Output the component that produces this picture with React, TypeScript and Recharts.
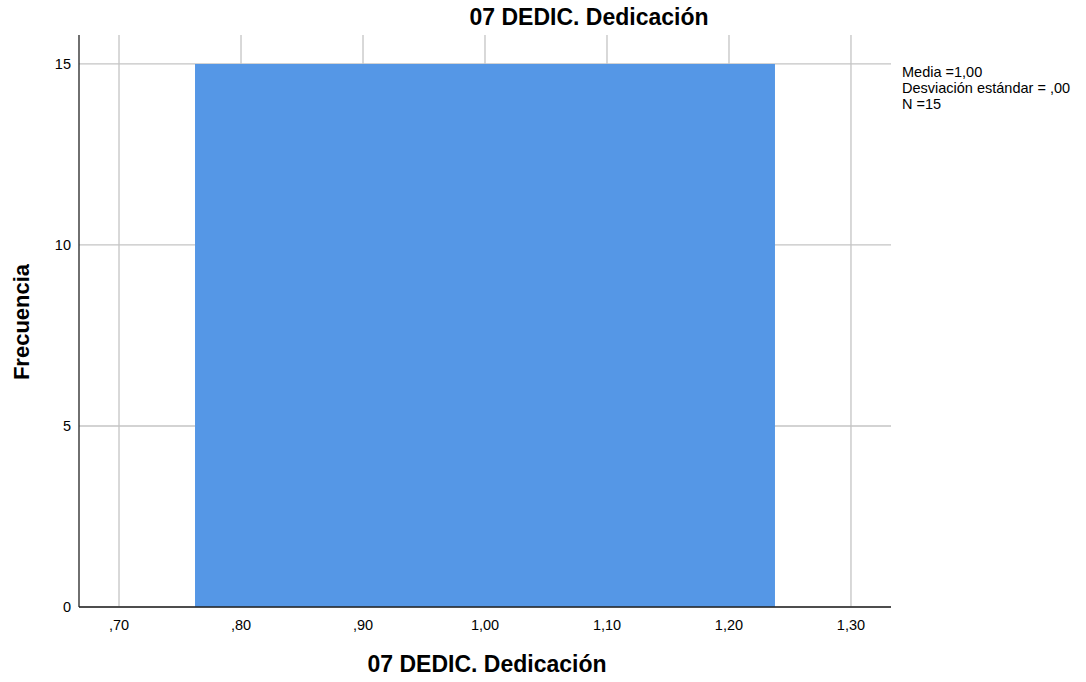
import React from 'react';
import { ComposedChart, Area, XAxis, YAxis, CartesianGrid } from 'recharts';

const binStarts = [0.7623];
const binEnds = [1.2377];
const frequencies = [15];
const xTicks = [0.7, 0.8, 0.9, 1.0, 1.1, 1.2, 1.3];
const yTicks = [0, 5, 10, 15];
const statsLines = ['Media =1,00', 'Desviación estándar = ,00', 'N =15'];
const titleText = '07 DEDIC. Dedicación';
const xLabelText = '07 DEDIC. Dedicación';
const yLabelText = 'Frecuencia';

const data = binStarts.flatMap((s, i) => [
  { x: s, count: frequencies[i] },
  { x: binEnds[i], count: frequencies[i] },
]);

const fmtX = (v: number) => {
  const s = v.toFixed(2).replace('.', ',');
  return s.startsWith('0') ? s.slice(1) : s;
};

const FONT = 'Arial, "Liberation Sans", Helvetica, sans-serif';

export default function App() {
  return (
    <div style={{ position: 'absolute', left: 0, top: 0, width: 1086, height: 682, background: '#fff', fontFamily: FONT }}>
      <ComposedChart
        width={1086}
        height={682}
        data={data}
        margin={{ top: 35, right: 195, bottom: 0, left: 0 }}
      >
        <CartesianGrid stroke="#c4c4c4" strokeWidth={1.3} horizontalValues={yTicks} verticalValues={xTicks} />
        <XAxis
          type="number"
          dataKey="x"
          domain={[0.6672, 1.3328]}
          ticks={xTicks}
          tickFormatter={fmtX}
          allowDataOverflow
          tickLine={false}
          tickSize={0}
          tickMargin={13}
          axisLine={{ stroke: '#222', strokeWidth: 1.3 }}
          tick={{ fill: '#000', fontSize: 14.5, fontFamily: FONT }}
          height={75}
        />
        <YAxis
          type="number"
          domain={[0, 15.8]}
          ticks={yTicks}
          allowDataOverflow
          tickLine={false}
          tickSize={0}
          tickMargin={8}
          axisLine={{ stroke: '#222', strokeWidth: 1.3 }}
          tick={{ fill: '#000', fontSize: 14.5, fontFamily: FONT }}
          width={79}
        />
        <Area
          type="linear"
          dataKey="count"
          stroke="none"
          fill="#5597e6"
          fillOpacity={1}
          isAnimationActive={false}
          dot={false}
          activeDot={false}
        />
      </ComposedChart>
      <div style={{ position: 'absolute', left: 389, width: 400, top: 3, textAlign: 'center', fontWeight: 'bold', fontSize: 23, lineHeight: '28px', color: '#000', fontFamily: FONT }}>
        {titleText}
      </div>
      <div style={{ position: 'absolute', left: 287, width: 400, top: 650, textAlign: 'center', fontWeight: 'bold', fontSize: 23, lineHeight: '28px', color: '#000', fontFamily: FONT }}>
        {xLabelText}
      </div>
      <div style={{ position: 'absolute', left: 22 - 100, width: 200, top: 322 - 14, height: 28, textAlign: 'center', fontWeight: 'bold', fontSize: 22, lineHeight: '28px', color: '#000', fontFamily: FONT, transform: 'rotate(-90deg)' }}>
        {yLabelText}
      </div>
      <div style={{ position: 'absolute', left: 902, top: 64, fontSize: 14.5, lineHeight: '16px', color: '#000', fontFamily: FONT, whiteSpace: 'pre' }}>
        {statsLines.map((l, i) => (
          <div key={i}>{l}</div>
        ))}
      </div>
    </div>
  );
}
